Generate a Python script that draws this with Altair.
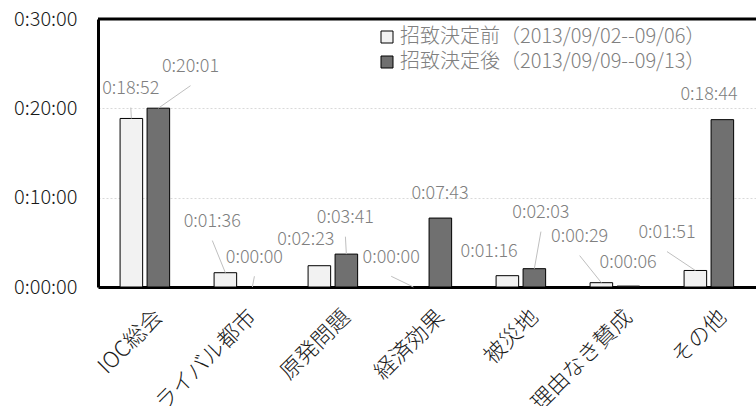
import altair as alt
import pandas as pd

# ---- data -------------------------------------------------------------
categories = ["IOC総会", "ライバル都市", "原発問題", "経済効果", "被災地", "理由なき賛成", "その他"]
series = ["招致決定前（2013/09/02--09/06）", "招致決定後（2013/09/09--09/13）"]
before_seconds = [1132, 96, 143, 0, 76, 29, 111]    # 0:18:52, 0:01:36, ...
after_seconds = [1201, 0, 221, 463, 123, 6, 1124]   # 0:20:01, 0:00:00, ...

# callout placement: offset from category centre (category units),
# label height (seconds) and whether a leader line joins label and bar
before_label_dx = [-0.151, -0.284, -0.289, -0.381, -0.339, -0.376, -0.447]
before_label_y = [1330, 437, 316, 197, 235, 336, 363]
before_leader = [True, True, False, True, False, True, True]
after_label_dx = [0.484, 0.164, 0.132, 0.138, 0.212, 0.140, 0.0]
after_label_y = [1477, 197, 463, 625, 497, 163, 1289]
after_leader = [True, True, True, False, True, False, False]

# ---- layout / style ---------------------------------------------------
W, H = 658, 268
FONT = "Noto Sans CJK JP"
BAR_SPAN = [(-0.265, -0.025), (0.022, 0.262)]   # bar extents per series
LEADER_GAP = 125                                  # seconds between label centre and leader start


def hms(s):
    return f"{s // 3600}:{(s % 3600) // 60:02d}:{s % 60:02d}"


rows = []
for si, (vals, ldx, ly, lead) in enumerate([
    (before_seconds, before_label_dx, before_label_y, before_leader),
    (after_seconds, after_label_dx, after_label_y, after_leader),
]):
    lo, hi = BAR_SPAN[si]
    for i, cat in enumerate(categories):
        rows.append({
            "series": series[si],
            "sec": vals[i],
            "x0": i + lo,
            "x1": i + hi,
            "bx": i + (lo + hi) / 2,
            "tx": i + ldx[i],
            "ty": ly[i],
            "ly0": ly[i] - LEADER_GAP,
            "leader": lead[i],
            "label": hms(vals[i]),
        })
df = pd.DataFrame(rows)

names_expr = "[" + ",".join(f"'{c}'" for c in categories) + "][datum.value]"

x_scale = alt.Scale(domain=[-0.5, 6.5], nice=False, zero=False)
y_scale = alt.Scale(domain=[0, 1800], nice=False)

x_axis = alt.Axis(
    values=list(range(len(categories))), labelExpr=names_expr, title=None,
    grid=False, ticks=False, tickSize=0, domainColor="black", domainWidth=3,
    labelAngle=-45, labelAlign="right", labelBaseline="top", labelPadding=19,
    labelOffset=6, labelFont=FONT, labelFontSize=22, labelFontWeight=300,
    labelColor="#1a1a1a", labelOverlap=False,
)
y_axis = alt.Axis(
    values=[0, 600, 1200, 1800],
    labelExpr="floor(datum.value/3600) + ':' + format(floor((datum.value % 3600)/60), '02d') + ':' + format(datum.value % 60, '02d')",
    title=None, grid=True, gridColor="#d9d9d9", gridDash=[2, 2], gridWidth=1,
    ticks=False, tickSize=0, domainColor="black", domainWidth=3,
    labelPadding=21, labelFont=FONT, labelFontSize=20, labelFontWeight=300,
    labelColor="#1a1a1a",
)

base = alt.Chart(df)

bars = base.mark_bar(stroke="black", strokeWidth=1).encode(
    x=alt.X("x0:Q", scale=x_scale, axis=x_axis),
    x2="x1:Q",
    y=alt.Y("sec:Q", scale=y_scale, axis=y_axis),
    y2=alt.datum(0),
    color=alt.Color(
        "series:N",
        scale=alt.Scale(domain=series, range=["#f2f2f2", "#707070"]),
        legend=alt.Legend(
            title=None, orient="none", legendX=279, legendY=8,
            symbolType="square", symbolSize=144, symbolStrokeColor="black",
            symbolStrokeWidth=1, symbolOpacity=1, labelFont=FONT, labelFontSize=20,
            labelFontWeight=300, labelColor="#808080", labelLimit=0, labelOffset=3,
            rowPadding=5, padding=0,
        ),
    ),
)

leaders = base.transform_filter("datum.leader").mark_rule(
    color="#bfbfbf", strokeWidth=1
).encode(
    x=alt.X("tx:Q", scale=x_scale, axis=x_axis),
    x2="bx:Q",
    y=alt.Y("ly0:Q", scale=y_scale, axis=y_axis),
    y2="sec:Q",
)

labels = base.mark_text(
    font=FONT, fontSize=18, fontWeight=300, color="#808080",
    align="center", baseline="middle",
).encode(
    x=alt.X("tx:Q", scale=x_scale, axis=x_axis),
    y=alt.Y("ty:Q", scale=y_scale, axis=y_axis),
    text="label:N",
)

top_edge = alt.Chart(pd.DataFrame({"k": [0]})).mark_rule(
    color="black", strokeWidth=3
).encode(x=alt.value(0), x2=alt.value(W), y=alt.value(0))

chart = alt.layer(bars, leaders, labels, top_edge).properties(
    width=W, height=H,
    autosize=alt.AutoSizeParams(type="none"),
    padding={"left": 98, "top": 19, "right": 0, "bottom": 119},
    background="white",
).configure_view(stroke=None)

chart.save("out.html", embed_options={"renderer": "svg", "actions": False})
